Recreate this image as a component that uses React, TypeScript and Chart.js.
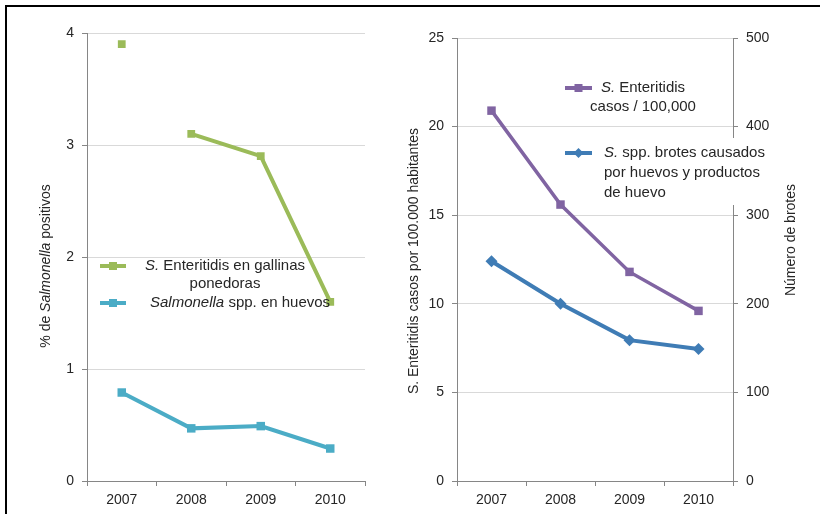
import React, { useEffect, useRef } from "react";
import { Chart, registerables } from "chart.js";
Chart.register(...registerables);

const years = ["2007", "2008", "2009", "2010"];
const enteritidisGallinas = [3.9, 3.1, 2.9, 1.6];
const salmonellaHuevos = [0.79, 0.47, 0.49, 0.29];
const enteritidisCasos = [20.9, 15.6, 11.8, 9.6];
const brotesHuevo = [248, 200, 159, 149];

const GREEN = "#9BBB59";
const TEAL = "#4BACC6";
const PURPLE = "#8064A2";
const BLUE = "#3F7CB5";
const GRID = "#D9D9D9";
const AXIS = "#868686";
const TEXT = "#262626";
const FAMILY = "'Liberation Sans', Arial, sans-serif";

type Run = { t: string; i?: boolean };

function fontOf(size: number, italic?: boolean) {
  return `${italic ? "italic " : ""}${size}px ${FAMILY}`;
}
function runsWidth(ctx: CanvasRenderingContext2D, runs: Run[], size: number) {
  let w = 0;
  for (const r of runs) {
    ctx.font = fontOf(size, r.i);
    w += ctx.measureText(r.t).width;
  }
  return w;
}
function drawRuns(
  ctx: CanvasRenderingContext2D,
  runs: Run[],
  x: number,
  y: number,
  size: number,
  align: "left" | "center"
) {
  let cx = align === "center" ? x - runsWidth(ctx, runs, size) / 2 : x;
  ctx.textBaseline = "middle";
  ctx.textAlign = "left";
  ctx.fillStyle = TEXT;
  for (const r of runs) {
    ctx.font = fontOf(size, r.i);
    ctx.fillText(r.t, cx, y);
    cx += ctx.measureText(r.t).width;
  }
}
function drawRotated(ctx: CanvasRenderingContext2D, runs: Run[], x: number, y: number, size: number) {
  ctx.save();
  ctx.translate(x, y);
  ctx.rotate(-Math.PI / 2);
  drawRuns(ctx, runs, 0, 0, size, "center");
  ctx.restore();
}
function sample(ctx: CanvasRenderingContext2D, x0: number, x1: number, y: number, color: string, diamond: boolean) {
  ctx.save();
  ctx.strokeStyle = color;
  ctx.fillStyle = color;
  ctx.lineWidth = 4;
  ctx.beginPath();
  ctx.moveTo(x0, y);
  ctx.lineTo(x1, y);
  ctx.stroke();
  const mx = (x0 + x1) / 2;
  ctx.beginPath();
  if (diamond) {
    ctx.moveTo(mx, y - 5);
    ctx.lineTo(mx + 5, y);
    ctx.lineTo(mx, y + 5);
    ctx.lineTo(mx - 5, y);
    ctx.closePath();
    ctx.fill();
  } else {
    ctx.fillRect(mx - 4, y - 4, 8, 8);
  }
  ctx.restore();
}

const LEG = 15;

const leftOverlay = {
  id: "leftOverlay",
  afterDraw(chart: any) {
    const ctx: CanvasRenderingContext2D = chart.ctx;
    drawRotated(ctx, [{ t: "% de " }, { t: "Salmonella", i: true }, { t: " positivos" }], 46, 266, 14);
    sample(ctx, 100, 126, 266, GREEN, false);
    drawRuns(ctx, [{ t: "S.", i: true }, { t: " Enteritidis en gallinas" }], 225, 266, LEG, "center");
    drawRuns(ctx, [{ t: "ponedoras" }], 225, 284, LEG, "center");
    sample(ctx, 100, 126, 303, TEAL, false);
    drawRuns(ctx, [{ t: "Salmonella", i: true }, { t: " spp. en huevos" }], 150, 303, LEG, "left");
  },
};

const rightOverlay = {
  id: "rightOverlay",
  afterDatasetsDraw(chart: any) {
    const ctx: CanvasRenderingContext2D = chart.ctx;
    ctx.save();
    ctx.fillStyle = "#FFFFFF";
    ctx.fillRect(177, 138, 208, 67);
    ctx.restore();
  },
  afterDraw(chart: any) {
    const ctx: CanvasRenderingContext2D = chart.ctx;
    drawRotated(ctx, [{ t: "S. Enteritidis casos por 100.000 habitantes" }], 24, 261, 14);
    drawRotated(ctx, [{ t: "Número de brotes" }], 401, 240, 14);
    sample(ctx, 175, 202, 88, PURPLE, false);
    drawRuns(ctx, [{ t: "S.", i: true }, { t: " Enteritidis" }], 253, 88, LEG, "center");
    drawRuns(ctx, [{ t: "casos / 100,000" }], 253, 107, LEG, "center");
    sample(ctx, 175, 202, 153, BLUE, true);
    drawRuns(ctx, [{ t: "S.", i: true }, { t: " spp. brotes causados" }], 214, 153, LEG, "left");
    drawRuns(ctx, [{ t: "por huevos y productos" }], 214, 173, LEG, "left");
    drawRuns(ctx, [{ t: "de huevo" }], 214, 193, LEG, "left");
  },
};

const tickFont = { family: FAMILY, size: 14 };

function xScale() {
  return {
    type: "category" as const,
    offset: true,
    grid: { display: true, drawOnChartArea: false, offset: true, tickLength: 5, color: AXIS },
    border: { color: AXIS, width: 1 },
    ticks: { font: tickFont, color: TEXT, padding: 6, maxRotation: 0 },
    afterFit: (s: any) => {
      s.height = 33;
    },
  };
}

export default function App() {
  const leftRef = useRef<HTMLCanvasElement>(null);
  const rightRef = useRef<HTMLCanvasElement>(null);

  useEffect(() => {
    const left = new Chart(leftRef.current!, {
      type: "line",
      data: {
        labels: years,
        datasets: [
          {
            data: enteritidisGallinas,
            borderColor: GREEN,
            backgroundColor: GREEN,
            borderWidth: 4,
            pointStyle: "rect",
            pointRadius: 5.5,
            pointBorderWidth: 0,
            segment: {
              borderColor: (c: any) => (c.p0DataIndex === 0 ? "rgba(0,0,0,0)" : GREEN),
            },
          },
          {
            data: salmonellaHuevos,
            borderColor: TEAL,
            backgroundColor: TEAL,
            borderWidth: 4,
            pointStyle: "rect",
            pointRadius: 6,
            pointBorderWidth: 0,
          },
        ],
      },
      options: {
        animation: false,
        responsive: false,
        layout: { padding: { left: 0, right: 45, top: 33, bottom: 0 } },
        plugins: { legend: { display: false }, tooltip: { enabled: false } },
        scales: {
          x: xScale(),
          y: {
            min: 0,
            max: 4,
            ticks: { stepSize: 1, font: tickFont, color: TEXT, padding: 8 },
            grid: { color: GRID, tickColor: AXIS, tickLength: 5 },
            border: { color: AXIS, width: 1 },
            afterFit: (s: any) => {
              s.width = 87;
            },
          },
        },
      },
      plugins: [leftOverlay],
    } as any);

    const right = new Chart(rightRef.current!, {
      type: "line",
      data: {
        labels: years,
        datasets: [
          {
            data: enteritidisCasos,
            yAxisID: "y",
            borderColor: PURPLE,
            backgroundColor: PURPLE,
            borderWidth: 3.5,
            pointStyle: "rect",
            pointRadius: 6,
            pointBorderWidth: 0,
          },
          {
            data: brotesHuevo,
            yAxisID: "y1",
            borderColor: BLUE,
            backgroundColor: BLUE,
            borderWidth: 4,
            pointStyle: "rectRot",
            pointRadius: 6,
            pointBorderWidth: 0,
          },
        ],
      },
      options: {
        animation: false,
        responsive: false,
        layout: { padding: { left: 0, right: 0, top: 38, bottom: 0 } },
        plugins: { legend: { display: false }, tooltip: { enabled: false } },
        scales: {
          x: xScale(),
          y: {
            position: "left",
            min: 0,
            max: 25,
            ticks: { stepSize: 5, font: tickFont, color: TEXT, padding: 8 },
            grid: { color: GRID, tickColor: AXIS, tickLength: 5 },
            border: { color: AXIS, width: 1 },
            afterFit: (s: any) => {
              s.width = 67;
            },
          },
          y1: {
            position: "right",
            min: 0,
            max: 500,
            ticks: { stepSize: 100, font: tickFont, color: TEXT, padding: 8 },
            grid: { drawOnChartArea: false, color: AXIS, tickLength: 5 },
            border: { color: AXIS, width: 1 },
            afterFit: (s: any) => {
              s.width = 87;
            },
          },
        },
      },
      plugins: [rightOverlay],
    } as any);

    return () => {
      left.destroy();
      right.destroy();
    };
  }, []);

  return (
    <div
      style={{
        position: "fixed",
        left: 0,
        top: 0,
        width: 820,
        height: 514,
        background: "#FFFFFF",
        overflow: "hidden",
      }}
    >
      <canvas
        ref={leftRef}
        width={410}
        height={514}
        style={{ position: "absolute", left: 0, top: 0, width: 410, height: 514 }}
      />
      <canvas
        ref={rightRef}
        width={430}
        height={514}
        style={{ position: "absolute", left: 390, top: 0, width: 430, height: 514 }}
      />
      <div style={{ position: "absolute", left: 5, top: 5, width: 815, height: 2, background: "#000" }} />
      <div style={{ position: "absolute", left: 5, top: 5, width: 2, height: 509, background: "#000" }} />
    </div>
  );
}
